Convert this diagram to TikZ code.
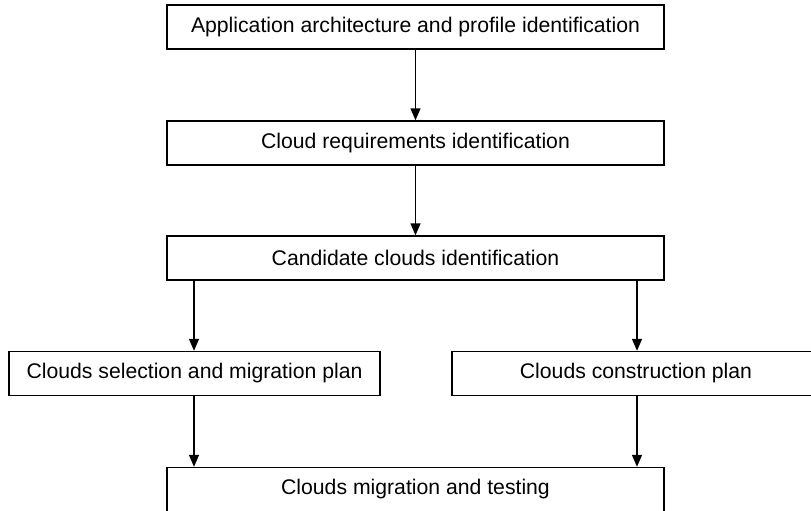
\documentclass[tikz,border=0pt]{standalone}
\usepackage{fontspec}
\setmainfont{Liberation Sans}
\usetikzlibrary{arrows.meta}
\begin{document}
\begin{tikzpicture}[x=1pt,y=-1pt,
  box/.style={draw, line width=1.4pt, minimum height=44pt, inner sep=0pt, font=\fontsize{21.2}{24}\selectfont},
  arr/.style={line width=1.4pt, -{Triangle[width=10pt,length=12pt]}}]
\useasboundingbox (0,0) rectangle (811,511);
\begin{scope}
\clip (0,0) rectangle (811,511);
\node[box, minimum width=497pt] (b1) at (415.5,27) {Application architecture and profile identification};
\node[box, minimum width=497pt] (b2) at (415.5,143) {Cloud requirements identification};
\node[box, minimum width=497pt] (b3) at (415.5,258) {Candidate clouds identification};
\node[box, minimum width=371pt] (b4) at (194.5,373.5) {Clouds selection and migration plan};
\node[box, minimum width=368pt] (b5) at (636,373.5) {Clouds construction plan};
\node[box, minimum width=497pt] (b6) at (415.5,489.5) {Clouds migration and testing};
\coordinate (s4) at (194,280);
\coordinate (s5) at (637,280);
\coordinate (e4) at (194,395);
\coordinate (e5) at (637,395);
\draw[arr] (b1.south) -- (b2.north);
\draw[arr] (b2.south) -- (b3.north);
\draw[arr] (s4) -- (s4 |- b4.north);
\draw[arr] (s5) -- (s5 |- b5.north);
\draw[arr] (e4) -- (e4 |- b6.north);
\draw[arr] (e5) -- (e5 |- b6.north);
\end{scope}
\end{tikzpicture}
\end{document}
